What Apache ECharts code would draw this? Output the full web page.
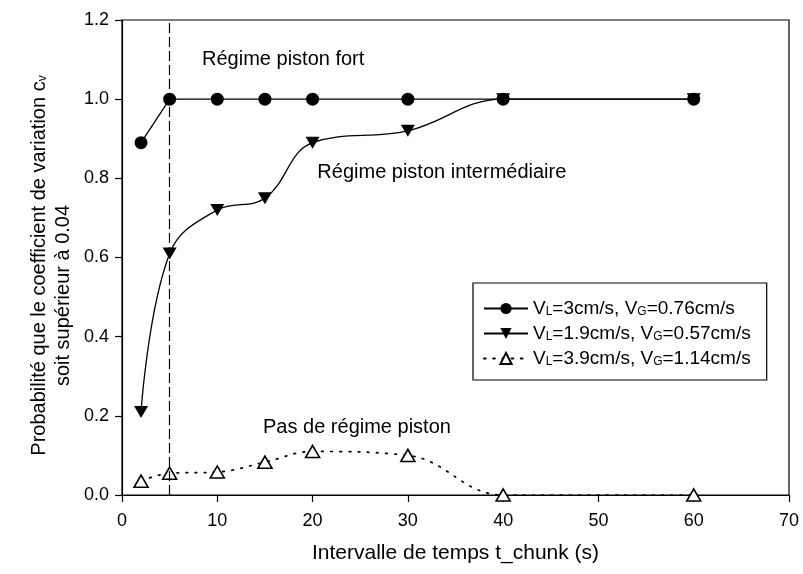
<!DOCTYPE html>
<html>
<head>
<meta charset="utf-8">
<script src="https://cdn.jsdelivr.net/npm/echarts@6/dist/echarts.min.js"></script>
<style>
html,body{margin:0;padding:0;background:#fff;}
#chart{width:803px;height:574px;}
</style>
</head>
<body>
<div id="chart"></div>
<script>
// ---- data ----
const xValues = [2, 5, 10, 15, 20, 30, 40, 60];
const fortValues = [0.89, 1.0, 1.0, 1.0, 1.0, 1.0, 1.0, 1.0];
const interValues = [0.21, 0.61, 0.72, 0.75, 0.89, 0.92, 1.0, 1.0];
const pasValues = [0.035, 0.055, 0.058, 0.083, 0.11, 0.10, 0.0, 0.0];
const seriesNames = ['V_L=3cm/s, V_G=0.76cm/s', 'V_L=1.9cm/s, V_G=0.57cm/s', 'V_L=3.9cm/s, V_G=1.14cm/s'];
const xTickMin = 0, xTickMax = 70, xTickStep = 10;
const yTickMin = 0, yTickMax = 1.2, yTickStep = 0.2;
const boundaryX = 5;
const xTitle = 'Intervalle de temps t_chunk (s)';
const yTitle1 = 'Probabilité que le coefficient de variation c{sub|v}';
const yTitle2 = 'soit supérieur à 0.04';
const annotations = [
  {text: 'Régime piston fort', x: 8.4, y: 1.10},
  {text: 'Régime piston intermédiaire', x: 20.5, y: 0.816},
  {text: 'Pas de régime piston', x: 14.8, y: 0.17}
];

const FONT = 'Liberation Sans, Arial, Helvetica, sans-serif';
const pair = (ys) => xValues.map((x, i) => [x, ys[i]]);
const downTri = 'path://M0,0 L12,0 L6,10 Z';
const subRich = {sub: {fontSize: 12, fontFamily: FONT, color: '#000', verticalAlign: 'bottom', lineHeight: 14, padding: [7, 0, 0, 0]}};

const chart = echarts.init(document.getElementById('chart'), null, {renderer: 'canvas'});
const option = {
  animation: false,
  backgroundColor: '#fff',
  grid: {left: 122, right: 14, top: 20, bottom: 79, show: true, borderColor: '#000', borderWidth: 1.2, backgroundColor: 'transparent'},
  xAxis: {
    type: 'value', min: xTickMin, max: xTickMax, interval: xTickStep,
    name: xTitle, nameLocation: 'middle', nameGap: 48,
    nameTextStyle: {fontFamily: FONT, fontSize: 21, color: '#000'},
    axisLine: {show: true, lineStyle: {color: '#000', width: 1.2}},
    axisTick: {show: true, inside: false, length: 7, lineStyle: {color: '#000', width: 1.2}},
    axisLabel: {fontFamily: FONT, fontSize: 18, color: '#000', margin: 17},
    splitLine: {show: false}
  },
  yAxis: {
    type: 'value', min: yTickMin, max: yTickMax, interval: yTickStep,
    axisLine: {show: true, lineStyle: {color: '#000', width: 1.2}},
    axisTick: {show: true, inside: false, length: 7, lineStyle: {color: '#000', width: 1.2}},
    axisLabel: {fontFamily: FONT, fontSize: 18, color: '#000', margin: 13, formatter: v => v.toFixed(1)},
    splitLine: {show: false}
  },
  legend: {
    data: seriesNames,
    orient: 'vertical', left: 473, top: 283,
    backgroundColor: '#fff', borderColor: '#000', borderWidth: 1.2,
    padding: [16, 16, 12, 10], itemGap: 6, itemWidth: 44, itemHeight: 14,
    textStyle: {fontFamily: FONT, fontSize: 19, color: '#000', rich: subRich},
    formatter: n => n.replace(/_(\w)/g, '{sub|$1}')
  },
  series: [
    {
      name: seriesNames[1], type: 'line', data: pair(interValues), smooth: 0.4,
      symbol: downTri, symbolSize: [14, 12], showSymbol: true,
      lineStyle: {color: '#000', width: 1.3}, itemStyle: {color: '#000'}
    },
    {
      name: seriesNames[2], type: 'line', data: pair(pasValues), smooth: 0.4,
      symbol: 'triangle', symbolSize: [14, 12],
      lineStyle: {color: '#000', width: 1.7, type: [1.7, 7.5], cap: 'round'},
      itemStyle: {color: '#fff', borderColor: '#000', borderWidth: 1.6}
    },
    {
      name: seriesNames[0], type: 'line', data: pair(fortValues), smooth: false,
      symbol: 'circle', symbolSize: 13,
      lineStyle: {color: '#000', width: 1.3}, itemStyle: {color: '#000'},
      markLine: {
        silent: true, symbol: ['none', 'none'], label: {show: false},
        lineStyle: {color: '#000', width: 1.2, type: [10, 4]},
        data: [{xAxis: boundaryX}]
      }
    }
  ]
};
chart.setOption(option);

// annotation texts and y title positioned through the axes
const gridTop = chart.convertToPixel({gridIndex: 0}, [0, yTickMax])[1];
const gridBottom = chart.convertToPixel({gridIndex: 0}, [0, yTickMin])[1];
const midY = (gridTop + gridBottom) / 2;
const graphics = annotations.map(a => {
  const p = chart.convertToPixel({gridIndex: 0}, [a.x, a.y]);
  return {type: 'text', x: p[0], y: p[1], style: {text: a.text, font: '20px ' + FONT, fill: '#000', textAlign: 'left', textVerticalAlign: 'middle'}};
});
graphics.push({type: 'text', x: 39, y: midY + 8, rotation: Math.PI / 2,
  style: {text: yTitle1, font: '20px ' + FONT, fontSize: 20, fontFamily: FONT, fill: '#000', textAlign: 'center', textVerticalAlign: 'middle', rich: subRich}});
graphics.push({type: 'text', x: 63, y: midY + 38, rotation: Math.PI / 2,
  style: {text: yTitle2, font: '20px ' + FONT, fill: '#000', textAlign: 'center', textVerticalAlign: 'middle'}});
chart.setOption({graphic: graphics});
</script>
</body>
</html>
